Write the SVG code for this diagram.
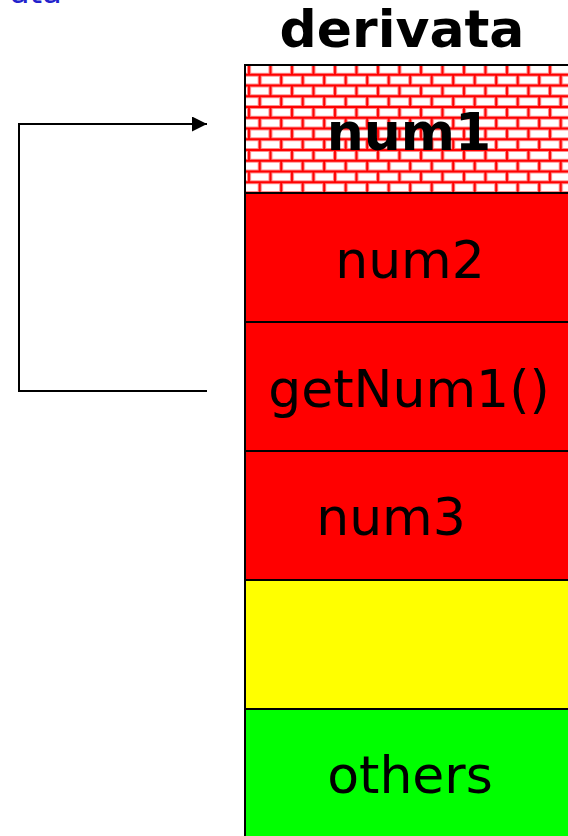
<svg xmlns="http://www.w3.org/2000/svg" width="568" height="836" viewBox="0 0 568 836">
<style>
.cell{stroke:#000;stroke-width:2}
.lbl{font-family:"DejaVu Sans",Verdana,sans-serif;font-size:52px;fill:#000;text-anchor:middle}
.bold{font-weight:bold}
.conn{fill:none;stroke:#000;stroke-width:2}
</style>
<defs>
<pattern id="brick" x="245" y="64" width="21.5" height="21.5" patternUnits="userSpaceOnUse">
<rect width="21.5" height="21.5" fill="#fff"/>
<g stroke="#ff8888" stroke-width="4" fill="none">
<path d="M0 0H21.5M0 10.75H21.5M0 21.5H21.5M4 0V10.75M14.75 10.75V21.5"/>
</g>
<g stroke="#ff0000" stroke-width="2" fill="none">
<path d="M0 0H21.5M0 10.75H21.5M0 21.5H21.5M4 0V10.75M14.75 10.75V21.5"/>
</g>
</pattern>
<marker id="ah" markerWidth="16" markerHeight="16" refX="15" refY="7.5" orient="auto" markerUnits="userSpaceOnUse">
<path d="M0 0L15 7.5L0 15Z" fill="#000"/>
</marker>
</defs>
<rect width="568" height="836" fill="#fff"/>
<text x="10" y="3" font-family="DejaVu Sans,Verdana,sans-serif" font-size="32" fill="#2222cc">ata</text>
<text id="title" class="lbl bold" x="402" y="47" font-size="50">derivata</text>
<g id="n1"><rect class="cell" x="245" y="65" width="340" height="128" fill="url(#brick)"/><text class="lbl bold" x="409" y="150">num1</text></g>
<g id="n2"><rect class="cell" x="245" y="193" width="340" height="129" fill="#ff0000"/><text class="lbl" x="410" y="278">num2</text></g>
<g id="n3"><rect class="cell" x="245" y="322" width="340" height="129" fill="#ff0000"/><text class="lbl" x="409" y="407">getNum1()</text></g>
<g id="n4"><rect class="cell" x="245" y="451" width="340" height="129" fill="#ff0000"/><text class="lbl" x="391" y="535">num3</text></g>
<g id="n5"><rect class="cell" x="245" y="580" width="340" height="129" fill="#ffff00"/></g>
<g id="n6"><rect class="cell" x="245" y="709" width="340" height="140" fill="#00ff00"/><text class="lbl" x="410" y="793">others</text></g>
<g id="connectors">
<path class="conn" d="M207 391H19V124H207" marker-end="url(#ah)"/>
</g>
</svg>
